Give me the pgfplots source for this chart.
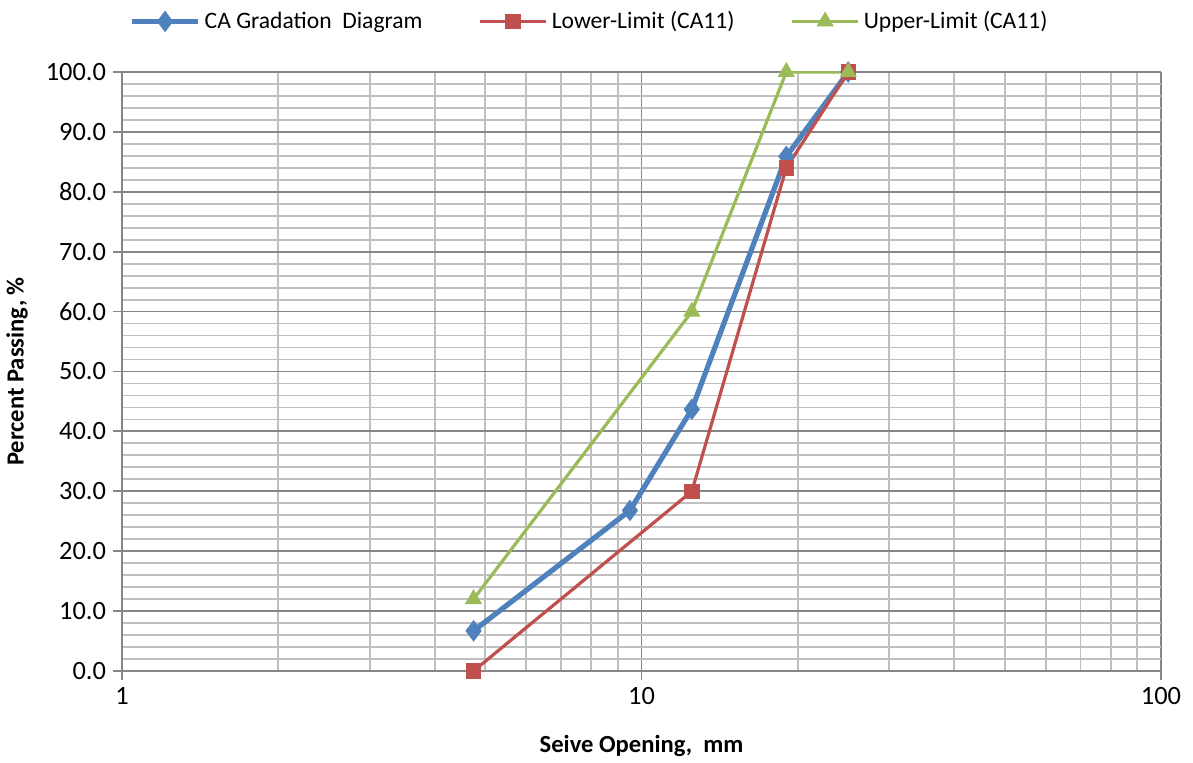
\documentclass[border=0pt]{standalone}
\usepackage{pgfplots}
\pgfplotsset{compat=1.18}
\usepackage{fontspec}
\setmainfont{Carlito}
\definecolor{exblue}{HTML}{4F81BD}
\definecolor{exred}{HTML}{C0504D}
\definecolor{exgreen}{HTML}{9BBB59}
\definecolor{gridmajor}{HTML}{868686}
\definecolor{gridminor}{HTML}{BFBFBF}
\begin{document}
\begin{tikzpicture}
\useasboundingbox (-61pt,-46pt) rectangle (535.5pt,335.5pt);
\begin{axis}[
  at={(0,0)}, anchor=south west,
  scale only axis,
  width=519.5pt, height=299.5pt,
  xmode=log,
  xmin=1, xmax=100,
  ymin=0, ymax=100,
  xtick={1,10,100}, xticklabels={1,10,100},
  ytick={0,10,...,100},
  minor ytick={2,4,...,98},
  minor xtick={2,3,4,5,6,7,8,9,20,30,40,50,60,70,80,90},
  grid=both,
  major grid style={draw=gridmajor, line width=0.9pt},
  minor grid style={draw=gridminor, line width=0.9pt},
  axis line style={draw=gridmajor, line width=0.9pt},
  axis x line*=bottom, axis y line*=left,
  tick align=outside,
  major tick length=4.5pt, minor tick length=0pt,
  tick style={draw=gridmajor, line width=0.9pt},
  yticklabel style={/pgf/number format/.cd, fixed, fixed zerofill, precision=1},
  /pgf/number format/assume math mode=true,
  ticklabel style={font=\fontsize{13.2}{15}\selectfont},
  xlabel={\textbf{Seive Opening,\ \ mm}},
  ylabel={\textbf{Percent Passing, \%}},
  label style={font=\fontsize{12.3}{14}\selectfont},
  xlabel style={at={(axis description cs:0.5,0)}, anchor=center, yshift=-37.5pt},
  ylabel style={at={(axis description cs:0,0.5)}, anchor=center, yshift=52.5pt},
  legend columns=3,
  legend style={at={(0.5,1)}, anchor=south, xshift=-25.5pt, yshift=16pt,
    draw=none, fill=none, font=\fontsize{11.8}{13}\selectfont,
    /tikz/every even column/.append style={column sep=26pt}},
  legend image code/.code={
    \draw[mark repeat=2, mark phase=2] plot coordinates {(0pt,0pt)(16.5pt,0pt)(33pt,0pt)};},
]
\addplot[exblue, line width=2.6pt, mark=diamond*, mark size=5pt,
  mark options={line width=0.5pt}]
  coordinates {(4.75,6.7)(9.5,26.8)(12.5,43.7)(19,85.9)(25,100)};
\addlegendentry{CA Gradation\ \ Diagram}
\addplot[exred, line width=1.6pt, mark=square*, mark size=3.6pt,
  mark options={line width=0.5pt}]
  coordinates {(4.75,0)(12.5,30)(19,84)(25,100)};
\addlegendentry{Lower-Limit (CA11)}
\addplot[exgreen, line width=1.6pt, mark=triangle*, mark size=4.5pt,
  mark options={line width=0.5pt}]
  coordinates {(4.75,12)(12.5,60)(19,100)(25,100)};
\addlegendentry{Upper-Limit (CA11)}
\end{axis}
\end{tikzpicture}
\end{document}
